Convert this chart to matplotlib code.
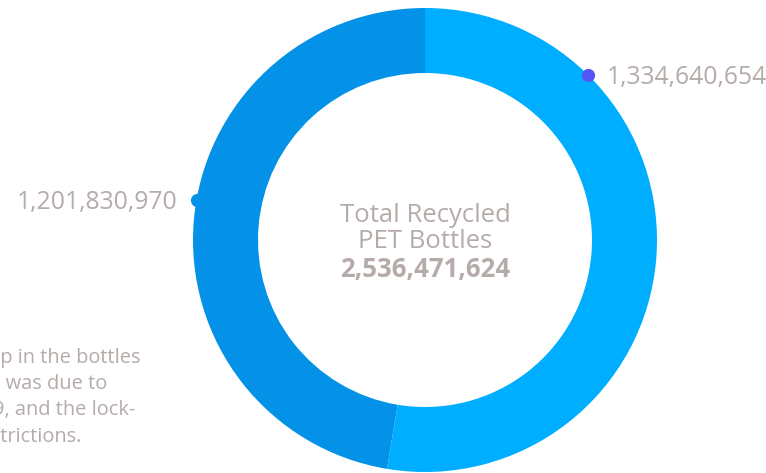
import matplotlib
matplotlib.use("Agg")
import matplotlib.pyplot as plt
import numpy as np

# ---- data ----
categories = ["Light", "Dark"]
values = [1334640654, 1201830970]
value_labels = ["1,334,640,654", "1,201,830,970"]
center_title = ["Total Recycled", "PET Bottles"]
total_label = "{:,}".format(sum(values))
note_lines = ["The drop in the bottles", "recycled was due to", "COVID-19, and the lock-", "down restrictions."]

colors = ["#00AEFF", "#0392E8"]
dot_colors = ["#5356F2", "#0392E8"]
text_color = "#B5ABA9"
font = ["Open Sans", "DejaVu Sans"]

W, H = 766, 473
fig = plt.figure(figsize=(W / 100, H / 100), dpi=100)
ax = fig.add_axes([0, 0, 1, 1])

cx, cy, R = 425, H - 240, 232
ax.pie(values, colors=colors, startangle=90, counterclock=False,
       center=(cx, cy), radius=R, frame=True,
       wedgeprops=dict(width=R - 167, linewidth=0))
ax.set_xlim(0, W)
ax.set_ylim(0, H)
ax.set_aspect("equal")
ax.axis("off")

# label dots on outer edge and value labels
dot_angles = [44.5, 280.0]  # degrees clockwise from top
for ang, col, lab, side in zip(dot_angles, dot_colors, value_labels, ["right", "left"]):
    t = np.deg2rad(ang)
    dx, dy = cx + R * np.sin(t), cy + R * np.cos(t)
    ax.plot(dx, dy, "o", color=col, ms=9.5, mec="none", zorder=5)
    if side == "right":
        ax.text(dx + 19, dy - 9, lab, ha="left", va="baseline", fontsize=17.8,
                color=text_color, family=font)
    else:
        ax.text(dx - 19, dy - 9, lab, ha="right", va="baseline", fontsize=17.8,
                color=text_color, family=font)

# center text
ax.text(cx, H - 222, center_title[0], ha="center", va="baseline", fontsize=18.5,
        color=text_color, family=font)
ax.text(cx, H - 248, center_title[1], ha="center", va="baseline", fontsize=18.5,
        color=text_color, family=font)
ax.text(cx, H - 277, total_label, ha="center", va="baseline", fontsize=18.5,
        color=text_color, family=font, fontweight="bold")

# note text (clipped at the left edge)
note_right = [140, 107, 135, 82]
note_base = [363, 389, 415, 442]
for line, xr, yb in zip(note_lines, note_right, note_base):
    ax.text(xr, H - yb, line, ha="right", va="baseline", fontsize=14.4,
            color=text_color, family=font)

fig.savefig("out.png", dpi=100)
